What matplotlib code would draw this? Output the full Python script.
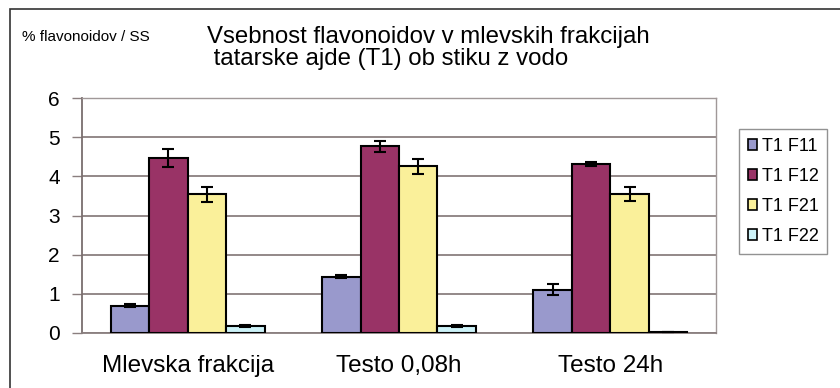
import numpy as np
import matplotlib
matplotlib.use("Agg")
import matplotlib.pyplot as plt
from matplotlib.patches import Patch, Rectangle

plt.rcParams["font.family"] = ["Liberation Sans", "DejaVu Sans"]

CATEGORIES = ["Mlevska frakcija", "Testo 0,08h", "Testo 24h"]
SERIES = ["T1 F11", "T1 F12", "T1 F21", "T1 F22"]
COLORS = ["#9999CC", "#993366", "#FAF09A", "#CCF2F8"]

F11 = [0.70, 1.44, 1.10]
F12 = [4.47, 4.77, 4.31]
F21 = [3.54, 4.26, 3.55]
F22 = [0.18, 0.18, 0.03]

F11_ERR = [0.04, 0.03, 0.14]
F12_ERR = [0.22, 0.14, 0.05]
F21_ERR = [0.19, 0.19, 0.19]
F22_ERR = [0.02, 0.02, 0.0]

TITLE = "Vsebnost flavonoidov v mlevskih frakcijah\n tatarske ajde (T1) ob stiku z vodo"
YLABEL = "% flavonoidov / SS"

values = [F11, F12, F21, F22]
errors = [F11_ERR, F12_ERR, F21_ERR, F22_ERR]

fig = plt.figure(figsize=(8.4, 3.88), dpi=100)
ax = fig.add_axes([82 / 840, 1 - 333 / 388, 634 / 840, 235 / 388])

# outer chart frame (cropped at right/bottom in the original)
fig.patches.append(Rectangle((10 / 840, -0.1), 1.2, 1 - 9 / 388 + 0.1,
                             transform=fig.transFigure, fill=False,
                             edgecolor="#333333", linewidth=1.2))

X = np.arange(len(CATEGORIES))
w = 1 / (len(SERIES) + 1.5)
for i, (vals, errs) in enumerate(zip(values, errors)):
    pos = X - 2 * w + (i + 0.5) * w
    ax.bar(pos, vals, width=w, color=COLORS[i], edgecolor="black",
           linewidth=1.5, zorder=3, label=SERIES[i])
    ax.errorbar(pos, vals, yerr=errs, fmt="none", ecolor="black",
                elinewidth=1.5, capsize=4, capthick=1.5, zorder=4)

ax.set_xlim(-0.5, 2.5)
ax.set_ylim(0, 6)
ax.set_yticks(np.arange(0, 7, 1))
ax.yaxis.grid(True, color="#8a7f7f", linewidth=1.3, zorder=0)
ax.set_xticks(X)
ax.set_xticklabels(CATEGORIES, fontsize=17.5)
ax.tick_params(axis="x", length=0, pad=16)
ax.tick_params(axis="y", labelsize=15, length=7, width=1, color="#8a7f7f", pad=9)

for s in ["top", "right"]:
    ax.spines[s].set_color("#a09898")
    ax.spines[s].set_linewidth(1)
ax.spines["left"].set_color("#7a6e6e")
ax.spines["left"].set_linewidth(1.3)
ax.spines["bottom"].set_color("#8a7f7f")
ax.spines["bottom"].set_linewidth(1.3)

handles = [Patch(facecolor=c, edgecolor="black", linewidth=1.2) for c in COLORS]
leg = fig.legend(handles, SERIES, loc="upper left",
                 bbox_to_anchor=(739 / 840, 1 - 129 / 388), fontsize=13,
                 handlelength=0.5, handleheight=0.5, handletextpad=0.25,
                 labelspacing=0.72, borderpad=0.5, fancybox=False,
                 frameon=True, borderaxespad=0)
leg.get_frame().set_edgecolor("#777777")
leg.get_frame().set_linewidth(1)

fig.text(22 / 840, 1 - 37 / 388, YLABEL, fontsize=11, va="center", ha="left")
fig.text(207 / 840, 1 - 48 / 388, TITLE, fontsize=17.3, va="center", ha="left",
         linespacing=1.05)

plt.savefig("out.png", dpi=100)
